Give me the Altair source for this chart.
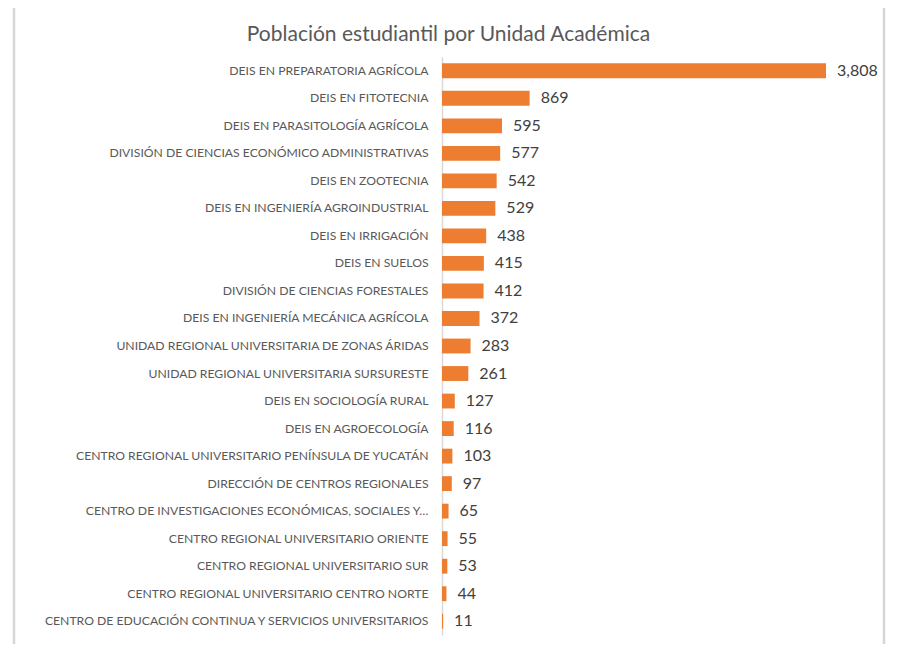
import altair as alt
import pandas as pd

units = [
    "DEIS EN PREPARATORIA AGRÍCOLA",
    "DEIS EN FITOTECNIA",
    "DEIS EN PARASITOLOGÍA AGRÍCOLA",
    "DIVISIÓN DE CIENCIAS ECONÓMICO ADMINISTRATIVAS",
    "DEIS EN ZOOTECNIA",
    "DEIS EN INGENIERÍA AGROINDUSTRIAL",
    "DEIS EN IRRIGACIÓN",
    "DEIS EN SUELOS",
    "DIVISIÓN DE CIENCIAS FORESTALES",
    "DEIS EN INGENIERÍA MECÁNICA AGRÍCOLA",
    "UNIDAD REGIONAL UNIVERSITARIA DE ZONAS ÁRIDAS",
    "UNIDAD REGIONAL UNIVERSITARIA SURSURESTE",
    "DEIS EN SOCIOLOGÍA RURAL",
    "DEIS EN AGROECOLOGÍA",
    "CENTRO REGIONAL UNIVERSITARIO PENÍNSULA DE YUCATÁN",
    "DIRECCIÓN DE CENTROS REGIONALES",
    "CENTRO DE INVESTIGACIONES ECONÓMICAS, SOCIALES Y…",
    "CENTRO REGIONAL UNIVERSITARIO ORIENTE",
    "CENTRO REGIONAL UNIVERSITARIO SUR",
    "CENTRO REGIONAL UNIVERSITARIO CENTRO NORTE",
    "CENTRO DE EDUCACIÓN CONTINUA Y SERVICIOS UNIVERSITARIOS",
]
students = [3808, 869, 595, 577, 542, 529, 438, 415, 412, 372, 283, 261,
            127, 116, 103, 97, 65, 55, 53, 44, 11]
title_text = "Población estudiantil por Unidad Académica"

df = pd.DataFrame({"unit": units, "n": students})
one = pd.DataFrame({"a": [0]})

FONT = "Lato"
GRAY = "#d6d6d6"

y_enc = alt.Y("unit:N", sort=None, title=None,
              scale=alt.Scale(paddingInner=0.46, paddingOuter=0.23),
              axis=alt.Axis(ticks=False, labelPadding=14, labelFontSize=12.2,
                            labelColor="#595959", labelFont=FONT,
                            domainColor="#d9d9d9", domainWidth=1.5,
                            labelLimit=600, grid=False))
x_enc = alt.X("n:Q", title=None, axis=None,
              scale=alt.Scale(domain=[0, 4363], nice=False, zero=True))

bars = alt.Chart(df).mark_bar(color="#ED7D31").encode(x=x_enc, y=y_enc)
labels = alt.Chart(df).mark_text(align="left", baseline="middle", dx=11,
                                 fontSize=16, font=FONT, color="#404040").encode(
    x=x_enc, y=y_enc, text=alt.Text("n:Q", format=",.0f"))

# outer chart frame (plot origin sits at page x=442, y=57)
frame_left = alt.Chart(one).mark_rule(color=GRAY, strokeWidth=2.5).encode(
    x=alt.value(-428), y=alt.value(-49), y2=alt.value(587))
frame_right = alt.Chart(one).mark_rule(color=GRAY, strokeWidth=2.5).encode(
    x=alt.value(442), y=alt.value(-49), y2=alt.value(587))

title = alt.Chart(one).mark_text(align="center", baseline="middle", fontSize=21,
                                 font=FONT, color="#595959").encode(
    x=alt.value(6.5), y=alt.value(-22), text=alt.value(title_text))

chart = alt.layer(frame_left, frame_right, bars, labels, title).properties(
    width=440, height=578,
    autosize=alt.AutoSizeParams(type="none"),
    padding={"left": 434, "top": 49, "right": 8, "bottom": 9},
    background="white",
).configure_view(strokeWidth=0)

chart.save("out.html", embed_options={"renderer": "svg", "actions": False})
